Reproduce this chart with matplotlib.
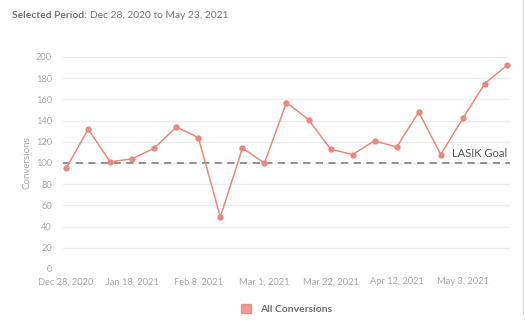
import numpy as np
import matplotlib.pyplot as plt
import matplotlib.dates as mdates
from matplotlib.patches import Patch
import datetime as dt

plt.rcParams['font.family'] = ['Lato', 'DejaVu Sans']

weeks = np.array([dt.date(2020, 12, 28) + dt.timedelta(weeks=i) for i in range(21)])
conversions = [95, 132, 101, 104, 114, 134, 124, 49, 114, 100, 157,
               141, 113, 108, 121, 115, 148, 108, 142, 175, 192]
goal = 100
tick_dates = [dt.date(2020, 12, 28) + dt.timedelta(weeks=3 * i) for i in range(7)]
tick_labels = ['Dec 28, 2020', 'Jan 18, 2021', 'Feb 8, 2021', 'Mar 1, 2021',
               'Mar 22, 2021', 'Apr 12, 2021', 'May 3, 2021']

line_col = '#e8897b'
grey = '#a9a9a9'

fig = plt.figure(figsize=(5.25, 3.3), dpi=100)
ax = fig.add_axes([63 / 525, 1 - 269 / 330, 447 / 525, 212 / 330])

ax.plot(weeks, conversions, color=line_col, lw=1.1, marker='o', ms=3.5, zorder=3)
ax.axhline(goal, color='#8a8a8a', lw=1.3, ls=(0, (4, 3)), zorder=2)
ax.text(weeks[-1], goal + 4, 'LASIK Goal', ha='right', va='bottom',
        fontsize=8, color='#555555')

ax.set_ylim(0, 200)
ax.set_yticks(range(0, 201, 20))
ax.set_xlim(weeks[0] - dt.timedelta(days=1.6), weeks[-1] + dt.timedelta(days=1.6))
ax.set_xticks(tick_dates)
ax.set_xticklabels(tick_labels)
ax.grid(axis='y', color='#ededed', lw=1)
ax.set_axisbelow(True)
for s in ax.spines.values():
    s.set_visible(False)
ax.tick_params(length=0, labelsize=6.7, colors=grey, pad=6)
ax.tick_params(axis='y', pad=8)
ax.set_ylabel('Conversions', fontsize=7, color=grey, labelpad=3)

ax.legend(handles=[Patch(color=line_col, alpha=0.85)], labels=['All Conversions'],
          loc='upper center', bbox_to_anchor=(0.5, -0.12), frameon=False,
          fontsize=7.5, labelcolor='#6f6f6f', handlelength=1.0, handleheight=1.0,
          prop={'weight': 'bold', 'size': 7.5})

t1 = fig.text(12 / 525, 1 - 15 / 330, 'Selected Period:', fontsize=7.4, fontweight='bold',
              color='#777777', va='center')
fig.canvas.draw()
bb = t1.get_window_extent()
fig.text((bb.x1 + 3) / 525, 1 - 15 / 330, 'Dec 28, 2020 to May 23, 2021', fontsize=7.4,
         color='#777777', va='center')

fig.add_artist(plt.Line2D([523 / 525, 523 / 525], [0.05, 1], color='#dddddd', lw=1))

fig.savefig('out.png', dpi=100)
